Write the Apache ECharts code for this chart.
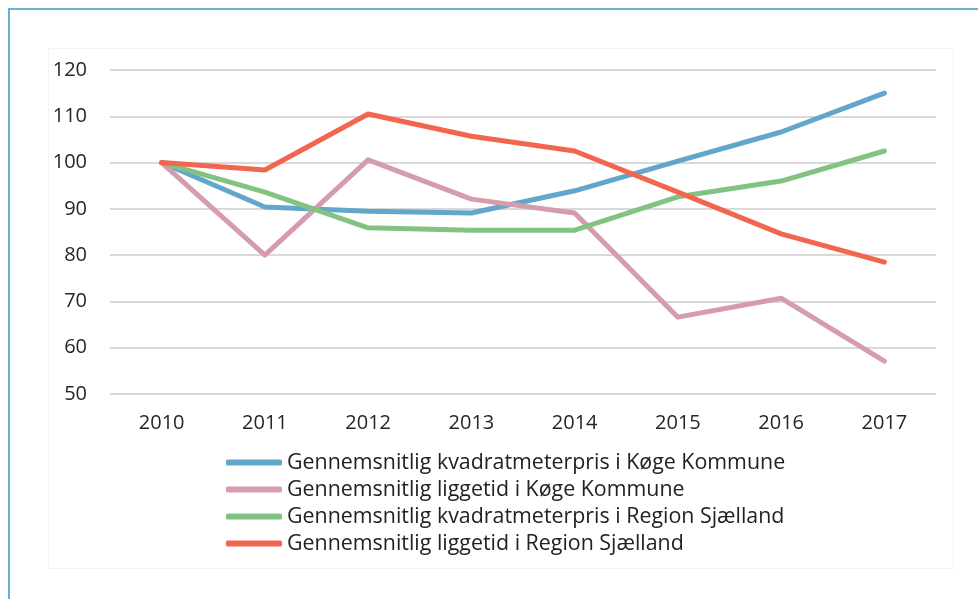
<!DOCTYPE html>
<html>
<head>
<meta charset="utf-8">
<script src="https://cdn.jsdelivr.net/npm/echarts@6/dist/echarts.min.js"></script>
<style>
  body { margin: 0; background: #fff; }
  #frame { position: absolute; left: 8px; top: 8px; width: 970px; height: 591px;
           border-left: 2px solid #6aaed4; border-top: 2px solid #6aaed4; }
  #inner { position: absolute; left: 48px; top: 48px; width: 904px; height: 519px;
           border: 1px solid #f4f4f4; }
  #main { position: absolute; left: 0; top: 0; width: 978px; height: 599px; }
</style>
</head>
<body>
<div id="frame"></div>
<div id="inner"></div>
<div id="main"></div>
<script>
var years = ['2010', '2011', '2012', '2013', '2014', '2015', '2016', '2017'];
var seriesNames = [
    'Gennemsnitlig kvadratmeterpris i Køge Kommune',
    'Gennemsnitlig liggetid i Køge Kommune',
    'Gennemsnitlig kvadratmeterpris i Region Sjælland',
    'Gennemsnitlig liggetid i Region Sjælland'
];
var prisKoege = [100, 90.4, 89.5, 89.1, 93.9, 100.3, 106.6, 115.0];
var liggetidKoege = [100, 80.0, 100.6, 92.1, 89.1, 66.6, 70.7, 57.1];
var prisRegion = [100, 93.6, 85.9, 85.4, 85.4, 92.6, 96.0, 102.5];
var liggetidRegion = [100, 98.4, 110.5, 105.7, 102.5, 93.6, 84.6, 78.5];
var colors = ['#62a7cb', '#d59cae', '#82c381', '#f2654e'];

var chart = echarts.init(document.getElementById('main'));

function makeLine(name, data, color) {
    return {
        name: name,
        type: 'line',
        data: data,
        symbol: 'none',
        color: color,
        lineStyle: { width: 5, color: color, cap: 'round', join: 'round' }
    };
}

var option = {
    animation: false,
    textStyle: { fontFamily: 'Open Sans' },
    grid: { left: 110, right: 42, top: 70, bottom: 205 },
    legend: {
        orient: 'vertical',
        left: 221,
        top: 447,
        itemWidth: 56,
        itemHeight: 6,
        itemGap: 6,
        icon: 'roundRect',
        textStyle: { fontSize: 21.4, lineHeight: 21, color: '#222', fontFamily: 'Open Sans' },
        data: seriesNames
    },
    xAxis: {
        type: 'category',
        data: years,
        boundaryGap: true,
        axisLine: { show: false },
        axisTick: { show: false },
        axisLabel: { fontSize: 20, color: '#262626', margin: 19 }
    },
    yAxis: {
        type: 'value',
        min: 50,
        max: 120,
        interval: 10,
        axisLine: { show: false },
        axisTick: { show: false },
        axisLabel: { fontSize: 20, color: '#262626', margin: 23 },
        splitLine: { lineStyle: { color: '#d9d9d9', width: 2 } }
    },
    series: [
        makeLine(seriesNames[0], prisKoege, colors[0]),
        makeLine(seriesNames[1], liggetidKoege, colors[1]),
        makeLine(seriesNames[2], prisRegion, colors[2]),
        makeLine(seriesNames[3], liggetidRegion, colors[3])
    ]
};
chart.setOption(option);
</script>
</body>
</html>
